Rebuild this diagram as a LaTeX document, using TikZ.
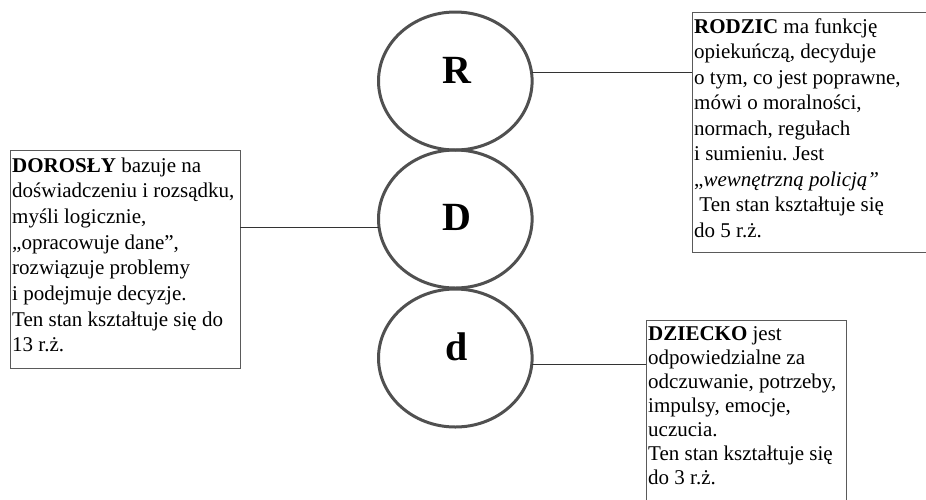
\documentclass[tikz,border=0pt]{standalone}
\usepackage{fontspec}
\setmainfont{Liberation Serif}
\usetikzlibrary{shapes.geometric}
\definecolor{ringgray}{HTML}{505050}
\definecolor{framegray}{HTML}{5A5A5A}
\definecolor{linkgray}{HTML}{333333}
\tikzset{
  egostate/.style={ellipse, draw=ringgray, line width=3pt, inner sep=0pt, outer sep=0pt,
    minimum width=153.6pt, minimum height=138pt},
  egoletter/.style={font=\fontsize{40}{40}\selectfont\bfseries, inner sep=0pt, anchor=base},
  framebox/.style={draw=framegray, line width=1pt, inner sep=0pt, outer sep=0pt, anchor=north west},
  desc/.style={inner sep=0pt, anchor=base west, align=left, text width=#1},
  link/.style={draw=linkgray, line width=1pt}
}
% body text of the descriptions, with its own line pitch and the font's own word spaces
\newcommand{\desctext}[1]{\fontsize{21}{#1}\selectfont\frenchspacing
  \spaceskip=0pt\xspaceskip=0pt\relax}
\begin{document}
\begin{tikzpicture}[x=1pt,y=-1pt]
\useasboundingbox (0,0) rectangle (926,499);

% the three ego states
\node[egostate] (Rell) at (455.3,81) {};
\node[egostate] (Dell) at (455.3,219) {};
\node[egostate] (dell) at (455.3,358) {};
\node[egoletter] (Rlet) at (457,83) {R};
\node[egoletter] (Dlet) at (457,230) {D};
\node[egoletter] (dlet) at (457,360) {d};

% description frames
\node[framebox, minimum width=236pt, minimum height=240pt] (Rbox) at (692,12) {};
\node[framebox, minimum width=230pt, minimum height=218pt] (Dbox) at (10,150) {};
\node[framebox, minimum width=200pt, minimum height=185pt] (dbox) at (646,320) {};

% description texts
\node[desc=230pt] (Rtxt) at (694,33) {\desctext{25.5pt}%
  \textbf{RODZIC} ma funkcję\\
  opiekuńczą, decyduje\\
  o tym, co jest poprawne,\\
  mówi o moralności,\\
  normach, regułach\\
  i sumieniu. Jest\\
  „\textit{wewnętrzną policją”}\\
  \hspace*{0.25em}Ten stan kształtuje się\\
  do 5 r.ż.\par};
\node[desc=228pt] (Dtxt) at (12,172) {\desctext{25.7pt}%
  \textbf{DOROSŁY} bazuje na\\
  doświadczeniu i rozsądku,\\
  myśli logicznie,\\
  „opracowuje dane”,\\
  rozwiązuje problemy\\
  i podejmuje decyzje.\\
  Ten stan kształtuje się do\\
  13 r.ż.\par};
\node[desc=196pt] (dtxt) at (648,340) {\desctext{24pt}%
  \textbf{DZIECKO} jest\\
  odpowiedzialne za\\
  odczuwanie, potrzeby,\\
  impulsy, emocje,\\
  uczucia.\\
  Ten stan kształtuje się\\
  do 3 r.ż.\par};

% connectors from the ego states to their frames
\draw[link] (Rell.6) -- (Rell.6 -| Rbox.west);
\draw[link] (Dell.186) -- (Dell.186 -| Dbox.east);
\draw[link] (dell.-5) -- (dell.-5 -| dbox.west);
\end{tikzpicture}
\end{document}
